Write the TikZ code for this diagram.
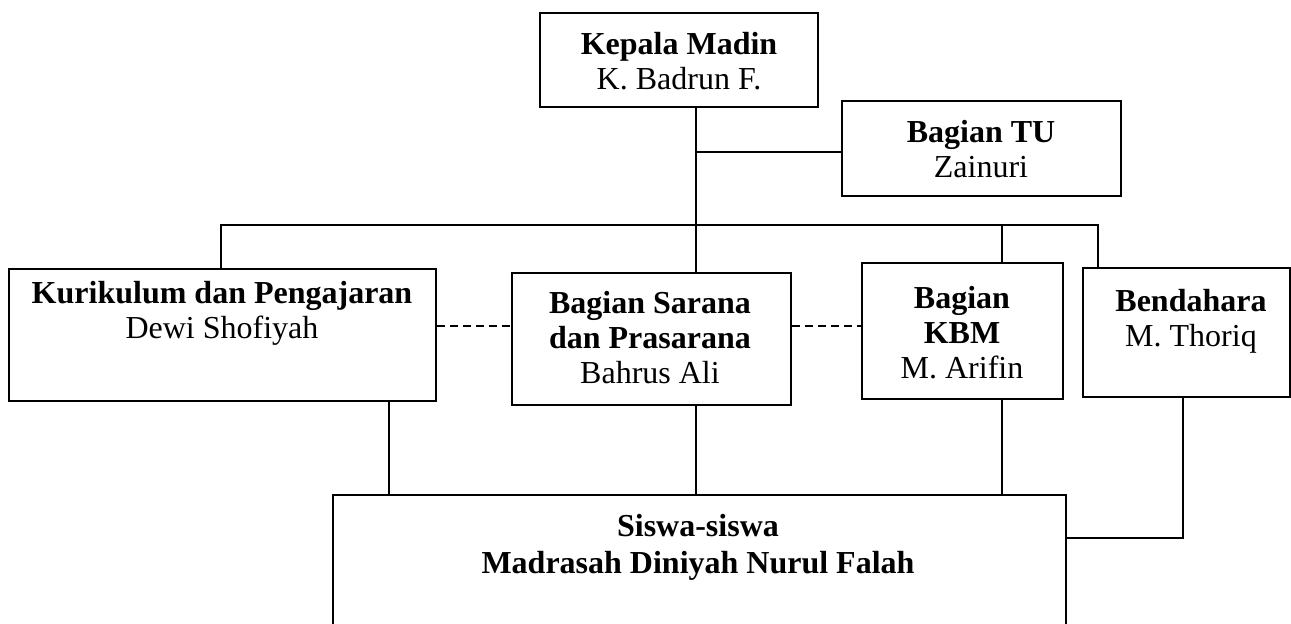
\documentclass[tikz,border=0pt]{standalone}
\usepackage{fontspec}
\setmainfont{Liberation Serif}
\begin{document}
\begin{tikzpicture}[x=0.5pt, y=-0.5pt, line width=1pt,
	kotak/.style={draw, rectangle, inner sep=0pt},
	isi/.style={anchor=north, align=center, inner sep=0pt, font=\fontsize{16}{17.5}\selectfont},
	putus/.style={dash pattern=on 4pt off 2.5pt}]
	\useasboundingbox (0,0) rectangle (1291,623);
	% kotak-kotak
	\node[kotak, minimum width=139pt, minimum height=47pt] (kepala) at (679,60) {};
	\node[kotak, minimum width=139.5pt, minimum height=47.5pt] (tu) at (981.5,148.5) {};
	\node[kotak, minimum width=213.5pt, minimum height=65.75pt] (kur) at (222.5,334.75) {};
	\node[kotak, minimum width=139.5pt, minimum height=65.75pt] (sarana) at (651.5,338.75) {};
	\node[kotak, minimum width=100.5pt, minimum height=67.75pt] (kbm) at (962.5,330.75) {};
	\node[kotak, minimum width=103.5pt, minimum height=64.5pt] (bendahara) at (1186.5,332.5) {};
	\node[kotak, minimum width=366.5pt, minimum height=82.5pt] (siswa) at (699.5,577.5) {};
	% tulisan
	\node[isi] (kepalaT) at (679,31) {\textbf{Kepala Madin}\\K. Badrun F.};
	\node[isi] (tuT) at (981,119) {\textbf{Bagian TU}\\Zainuri};
	\node[isi] (kurT) at (222,280) {\textbf{Kurikulum dan Pengajaran}\\Dewi Shofiyah};
	\node[isi] (saranaT) at (650,290) {\textbf{Bagian Sarana}\\\textbf{dan Prasarana}\\Bahrus Ali};
	\node[isi] (kbmT) at (962,285) {\textbf{Bagian}\\\textbf{KBM}\\M. Arifin};
	\node[isi] (bendaharaT) at (1191,288) {\textbf{Bendahara}\\M. Thoriq};
	\node[isi, font=\fontsize{16}{18.5}\selectfont\bfseries] (siswaT) at (698,513) {Siswa-siswa\\Madrasah Diniyah Nurul Falah};
	% garis
	\coordinate (batang) at (696,225);
	\coordinate (cabangTU) at (696,152);
	\coordinate (busL) at (220.5,225);
	\coordinate (busR) at (1097.5,225);
	\coordinate (dropKbm) at (1002,225);
	\coordinate (dropKur) at (389,495);
	\coordinate (sudut) at (1183,538);
	\coordinate (garis) at (0,326);
	\draw (kepala.south -| batang) -- (sarana.north -| batang);
	\draw (cabangTU) -- (cabangTU -| tu.west);
	\draw (kur.north -| busL) -- (busL) -- (busR) -- (bendahara.north -| busR);
	\draw (dropKbm) -- (kbm.north -| dropKbm);
	\draw (kur.south -| dropKur) -- (dropKur);
	\draw (sarana.south -| batang) -- (siswa.north -| batang);
	\draw (kbm.south -| dropKbm) -- (siswa.north -| dropKbm);
	\draw (bendahara.south -| sudut) -- (sudut) -- (siswa.east |- sudut);
	\draw[putus] (kur.east |- garis) -- (sarana.west |- garis);
	\draw[putus] (sarana.east |- garis) -- (kbm.west |- garis);
\end{tikzpicture}
\end{document}
